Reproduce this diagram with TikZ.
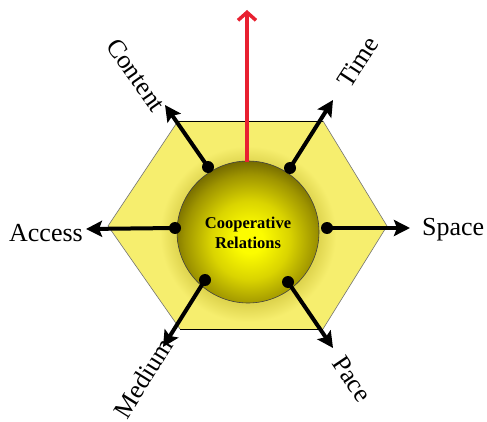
\documentclass[tikz,border=0pt]{standalone}
\usepackage{fontspec}
\setmainfont{Liberation Serif}
\usetikzlibrary{arrows.meta}
\definecolor{hexy}{RGB}{246,238,110}
\definecolor{redarr}{RGB}{232,32,48}
\definecolor{glowdark}{RGB}{222,212,78}
\definecolor{sphA}{RGB}{252,252,0}
\definecolor{sphB}{RGB}{218,212,0}
\definecolor{sphC}{RGB}{158,148,0}
\definecolor{sphD}{RGB}{108,98,0}
\pgfdeclareradialshading{glowshade}{\pgfpoint{0bp}{0bp}}{color(0bp)=(glowdark); color(20bp)=(glowdark); color(25bp)=(hexy); color(50bp)=(hexy)}
\pgfdeclareradialshading{sphshade}{\pgfpoint{0bp}{0bp}}{color(0bp)=(sphA); color(4bp)=(sphA); color(12bp)=(sphB); color(20bp)=(sphC); color(25bp)=(sphD); color(50bp)=(sphD)}
\begin{document}
\begin{tikzpicture}[x=1pt,y=-1pt,
  lbl/.style={font=\fontsize{26}{29}\selectfont, inner sep=0pt},
  ctrtext/.style={font=\bfseries\fontsize{16.5}{20}\selectfont, align=center, inner sep=0pt},
  dotnode/.style={circle, fill=black, minimum size=12pt, inner sep=0pt},
  spoke/.style={line width=4pt, -{Stealth[length=16pt,width=16pt,inset=3pt]}},
  redarrow/.style={draw=redarr, line width=3.5pt, -{Straight Barb[length=8pt,width=18pt]}}]
\useasboundingbox (0,0) rectangle (487,422);
% hexagon
\coordinate (h1) at (178,121);
\coordinate (h2) at (323,121);
\coordinate (h3) at (387,226);
\coordinate (h4) at (323,329);
\coordinate (h5) at (180,329);
\coordinate (h6) at (108,226);
\fill[hexy] (h1) -- (h2) -- (h3) -- (h4) -- (h5) -- (h6) -- cycle;
\begin{scope}
\clip (h1) -- (h2) -- (h3) -- (h4) -- (h5) -- (h6) -- cycle;
\shade[shading=glowshade] (248,234) circle (88);
\end{scope}
\draw[black, line width=0.8pt] (h1) -- (h2);
\draw[black, line width=0.8pt] (h4) -- (h5);
\draw[black!55, line width=0.6pt] (h2) -- (h3) -- (h4);
\draw[black!55, line width=0.6pt] (h5) -- (h6) -- (h1);
% sphere
\begin{scope}
\clip (248,232) circle (71);
\shade[shading=sphshade] (250,240) circle (82);
\end{scope}
\draw[black!75, line width=0.6pt] (248,232) circle (71);
\node[ctrtext] (ctr) at (248,233) {Cooperative\\Relations};
% red arrow
\coordinate (rtop) at (247,162);
\coordinate (rtip) at (247,10);
\draw[redarrow] (rtop) -- (rtip);
% dots
\node[dotnode] (dC) at (208,167) {};
\node[dotnode] (dT) at (290,168) {};
\node[dotnode] (dA) at (175,228) {};
\node[dotnode] (dS) at (327,228) {};
\node[dotnode] (dM) at (205,280) {};
\node[dotnode] (dP) at (288,282) {};
% tips
\coordinate (tC) at (165,105);
\coordinate (tT) at (333,100);
\coordinate (tA) at (86,229);
\coordinate (tS) at (410,228);
\coordinate (tM) at (163,347);
\coordinate (tP) at (333,348);
\draw[spoke] (dC.center) -- (tC);
\draw[spoke] (dT.center) -- (tT);
\draw[spoke] (dA.center) -- (tA);
\draw[spoke] (dS.center) -- (tS);
\draw[spoke] (dM.center) -- (tM);
\draw[spoke] (dP.center) -- (tP);
% labels
\node[lbl, rotate=-55] (lC) at (136,75) {Content};
\node[lbl, rotate=57] (lT) at (358,62) {Time};
\node[lbl, anchor=base east] (lA) at (83,241) {Access};
\node[lbl, anchor=base west] (lS) at (422,236) {Space};
\node[lbl, rotate=58] (lM) at (143,378) {Medium};
\node[lbl, rotate=-56] (lP) at (352,379) {Pace};
\end{tikzpicture}
\end{document}
